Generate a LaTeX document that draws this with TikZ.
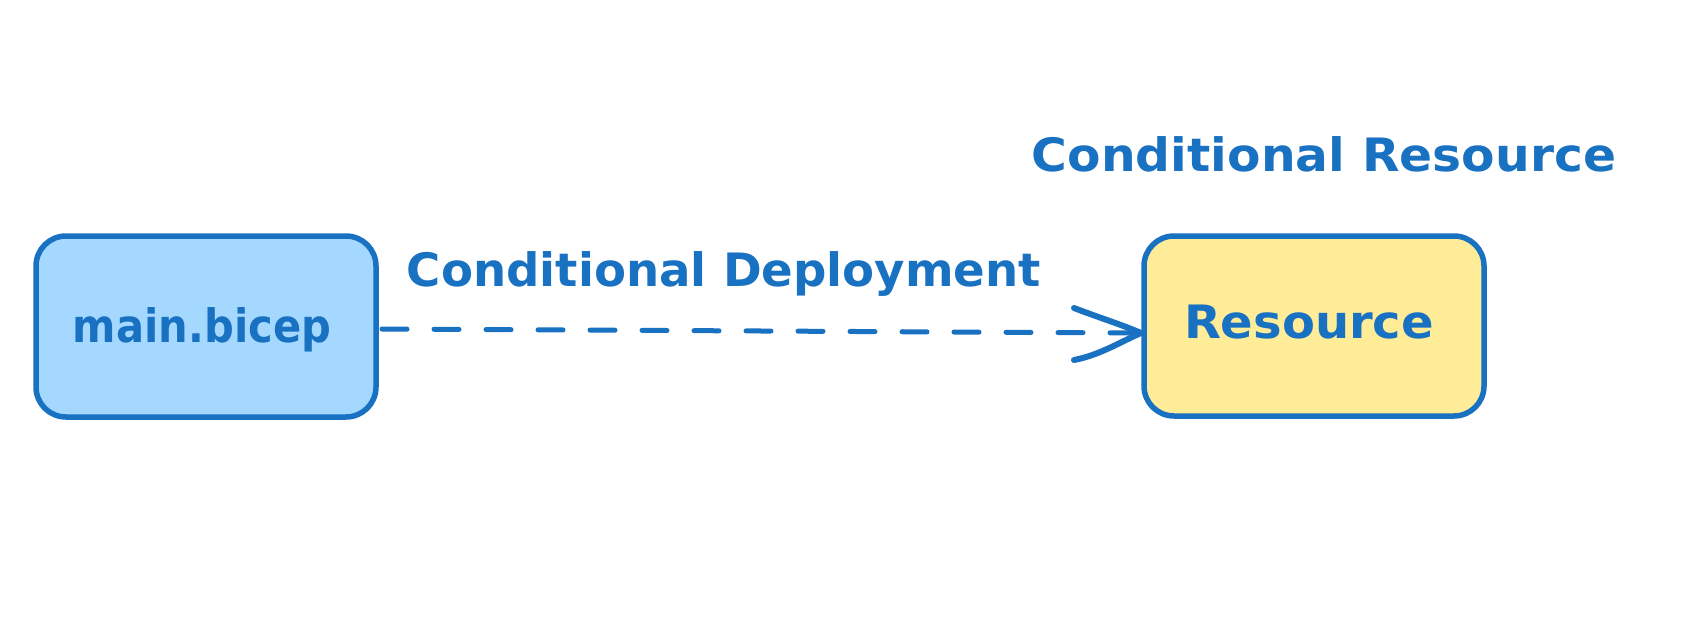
\documentclass[tikz,border=0pt]{standalone}
\usepackage{fontspec}
\setmainfont{DejaVu Sans}
\usepackage{graphicx}
\definecolor{strk}{HTML}{1971C2}
\definecolor{bluefill}{HTML}{A5D8FF}
\definecolor{yellowfill}{HTML}{FFEC99}
\newcommand\fitw[2]{\resizebox{#1}{\height}{#2}}
\tikzset{
  sketchbox/.style={draw=strk, line width=5.5pt, rounded corners=30pt, inner sep=0pt},
  lbl/.style={text=strk, font=\fontsize{46}{50}\selectfont\bfseries, inner sep=0pt},
  dashedconn/.style={draw=strk, line width=5pt, line cap=round, dash pattern=on 25pt off 27pt},
  headarm/.style={draw=strk, line width=6pt, line cap=round}
}
\begin{document}
\begin{tikzpicture}[x=1pt,y=-1pt]
\useasboundingbox (0,0) rectangle (1704,634);
\fill[white] (0,0) rectangle (1704,634);
\draw[sketchbox, fill=bluefill] (36,236) rectangle (376,417);
\draw[sketchbox, fill=yellowfill] (1144,236) rectangle (1484,416);
\node[lbl] (main) at (202,330) {\fitw{258pt}{main.bicep}};
\node[lbl] (res) at (1309,322) {\fitw{250pt}{Resource}};
\node[lbl] (cd) at (724,274) {\fitw{634pt}{Conditional Deployment}};
\node[lbl] (cr) at (1324,154) {\fitw{584pt}{Conditional Resource}};
\coordinate (s) at (382,329);
\coordinate (t) at (1141,333);
\coordinate (a1) at (1074,308);
\coordinate (a2) at (1074,360);
\draw[dashedconn] (s) -- (t);
\draw[headarm] (a1) .. controls (1100,318) and (1120,324) .. (t);
\draw[headarm] (a2) .. controls (1100,355) and (1120,342) .. (t);
\end{tikzpicture}
\end{document}
